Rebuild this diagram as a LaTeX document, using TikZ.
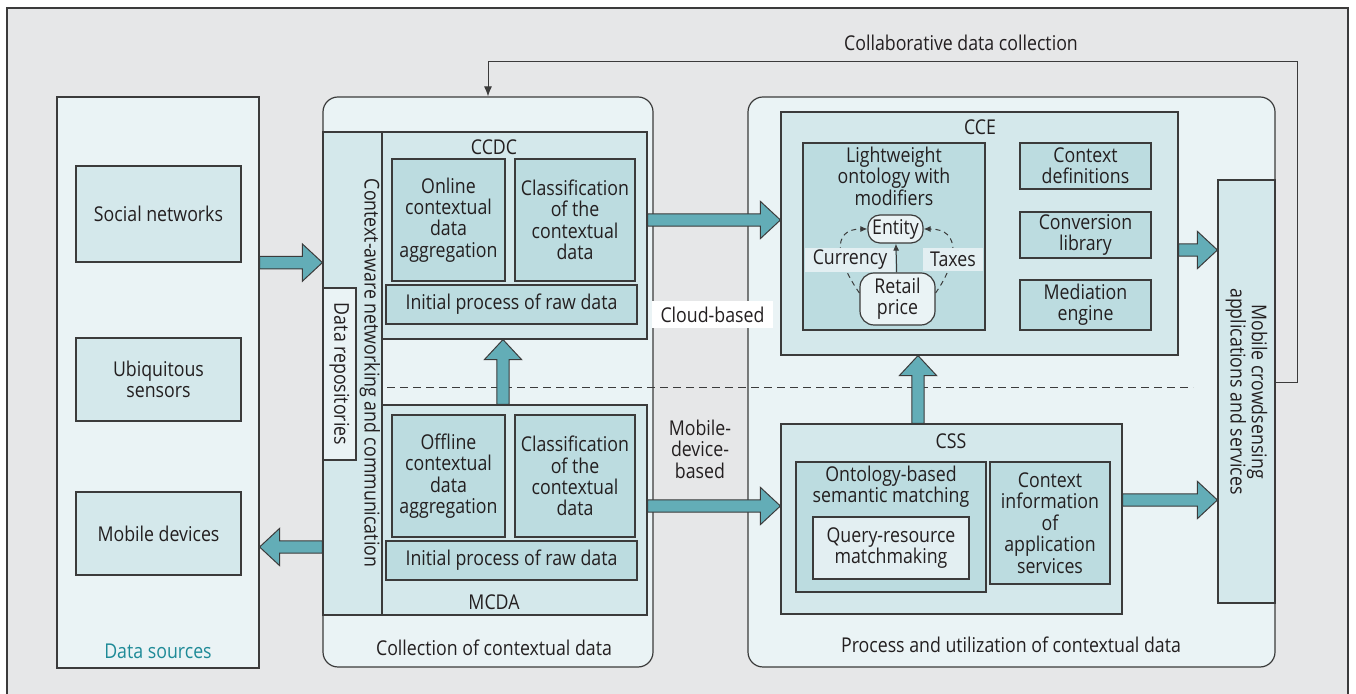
\documentclass[tikz,border=0pt]{standalone}
\usepackage{fontspec}
\setmainfont[FakeStretch=0.87]{Open Sans}
\usepackage{tikz}
\usetikzlibrary{calc,fit,arrows.meta}
\definecolor{BgC}{HTML}{E6E7E8}
\definecolor{PaleC}{HTML}{EAF3F5}
\definecolor{MidC}{HTML}{D4E8EB}
\definecolor{DeepC}{HTML}{BCDCE0}
\definecolor{BandC}{HTML}{E3EFF2}
\definecolor{ArrC}{HTML}{63ADB7}
\definecolor{LineC}{HTML}{3B3B3B}
\definecolor{TxtC}{HTML}{231F20}
\definecolor{SrcC}{HTML}{1E8A97}
\tikzset{
  box/.style={draw=LineC,line width=.6pt,inner sep=0pt},
  palebox/.style={box,fill=PaleC},
  midbox/.style={box,fill=MidC},
  deepbox/.style={box,fill=DeepC},
  roundbox/.style={palebox,rounded corners=7.5pt},
  lbl/.style={text=TxtC,align=center,inner sep=0pt},
  fatarrow/.style={draw=LineC,fill=ArrC,line width=.5pt},
  thinarrow/.style={draw=LineC,line width=.5pt,-{Latex[length=5pt,width=4pt]}},
  smallarrow/.style={draw=LineC,line width=.5pt,-{Latex[length=3.5pt,width=3pt]}},
}
% block arrow from #1 to #2 (shaft, then head)
\newcommand{\fatarrow}[2]{%
  \coordinate (fa-s) at (#1);
  \coordinate (fa-t) at (#2);
  \coordinate (fa-h) at ($(fa-t)!10pt!(fa-s)$);
  \filldraw[fatarrow] ($(fa-s)!3.1pt!90:(fa-t)$) -- ($(fa-h)!3.1pt!90:(fa-t)$)
    -- ($(fa-h)!9.3pt!90:(fa-t)$) -- (fa-t) -- ($(fa-h)!9.3pt!-90:(fa-t)$)
    -- ($(fa-h)!3.1pt!-90:(fa-t)$) -- ($(fa-s)!3.1pt!-90:(fa-t)$) -- cycle;}

\begin{document}
\begin{tikzpicture}[x=0.5pt,y=-0.5pt,font=\fontsize{10.2}{10.7}\selectfont]
\useasboundingbox (0,0) rectangle (1356,694);

% ---------- frame ----------
\fill[BgC] (7,8) rectangle (1348,694);
\draw[LineC,line width=.6pt] (7,694) -- (7,8) -- (1348,8) -- (1348,694);

% ---------- data sources ----------
\node[palebox,fit={(57,97) (259,668)}] (sources) {};
\node[midbox,fit={(76,166) (241,262)}] (social) {};
\node[lbl] (social-t) at (social) {Social networks};
\node[midbox,fit={(76,338) (241,421)}] (sensors) {};
\node[lbl] (sensors-t) at (sensors) {Ubiquitous\\sensors};
\node[midbox,fit={(76,492) (241,575)}] (mobile) {};
\node[lbl] (mobile-t) at (mobile) {Mobile devices};
\node[lbl,text=SrcC] (srclbl) at (158,651) {Data sources};

% ---------- collection of contextual data ----------
\node[roundbox,fit={(323,97) (653,667)}] (coll) {};
\node[midbox,fit={(323,132) (382,615)}] (ctx) {};
\node[palebox,fit={(323,288) (356,460)}] (repo) {};
\node[lbl,rotate=-90] (repolbl) at (repo.center) {Data repositories};
\node[lbl,rotate=-90] (ctxlbl) at (370,373) {Context-aware networking and communication};

\node[midbox,fit={(382,132) (647,339)}] (ccdc) {};
\node[lbl] (ccdclbl) at (494,147) {CCDC};
\node[deepbox,fit={(392,159) (505,281)}] (online) {};
\node[lbl] (online-t) at (online) {Online\\contextual\\data\\aggregation};
\node[deepbox,fit={(515,159) (635,281)}] (clsup) {};
\node[lbl] (clsup-t) at (clsup) {Classification\\of the\\contextual\\data};
\node[deepbox,fit={(386,285) (637,324)}] (rawup) {};
\node[lbl] (rawup-t) at (rawup) {Initial process of raw data};

\node[midbox,fit={(382,405) (647,615)}] (mcda) {};
\node[deepbox,fit={(392,415) (505,537)}] (offline) {};
\node[lbl] (offline-t) at (offline) {Offline\\contextual\\data\\aggregation};
\node[deepbox,fit={(515,415) (635,537)}] (clsdown) {};
\node[lbl] (clsdown-t) at (clsdown) {Classification\\of the\\contextual\\data};
\node[deepbox,fit={(386,541) (637,580)}] (rawdown) {};
\node[lbl] (rawdown-t) at (rawdown) {Initial process of raw data};
\node[lbl] (mcdalbl) at (494,602) {MCDA};
\node[lbl] (colllbl) at (494,648) {Collection of contextual data};

% ---------- process and utilization ----------
\node[roundbox,fit={(748,97) (1275,667)}] (proc) {};
\node[midbox,fit={(781,112) (1178,355)}] (cce) {};
\node[lbl] (ccelbl) at (980,127) {CCE};
\node[deepbox,fit={(803,143) (985,330)}] (onto) {};
\node[lbl] (ontolbl) at (894,176) {Lightweight\\ontology with\\modifiers};
\node[box,fill=PaleC,rounded corners=6pt,fit={(868,215) (923,243)}] (entity) {};
\node[lbl] (entity-t) at (entity) {Entity};
\node[box,fill=PaleC,rounded corners=7pt,fit={(860,273) (935,325)}] (retail) {};
\node[lbl] (retail-t) at (retail) {Retail\\price};
\draw[smallarrow,dash pattern=on 2.5pt off 2pt] ([yshift=3pt]retail.west) to[out=125,in=180,looseness=1.5] (entity.west);
\draw[smallarrow,dash pattern=on 2.5pt off 2pt] ([yshift=3pt]retail.east) to[out=55,in=0,looseness=1.5] (entity.east);
\node[fill=BandC,inner sep=0pt,fit={(805,248) (895,272)}] (cur) {};
\node[lbl] (cur-t) at (cur) {Currency};
\node[fill=BandC,inner sep=0pt,fit={(923,248) (983,271)}] (tax) {};
\node[lbl] (tax-t) at (tax) {Taxes};
\draw[smallarrow] (retail) -- (entity);

\node[deepbox,fit={(1020,143) (1151,189)}] (ctxdef) {};
\node[lbl] (ctxdef-t) at (ctxdef) {Context\\definitions};
\node[deepbox,fit={(1020,212) (1151,258)}] (convlib) {};
\node[lbl] (convlib-t) at (convlib) {Conversion\\library};
\node[deepbox,fit={(1020,280) (1151,330)}] (medeng) {};
\node[lbl] (medeng-t) at (medeng) {Mediation\\engine};

\node[midbox,fit={(781,424) (1122,614)}] (css) {};
\node[lbl] (csslbl) at (951,441) {CSS};
\node[deepbox,fit={(796,462) (986,592)}] (semmatch) {};
\node[lbl] (semlbl) at (891,487) {Ontology-based\\semantic matching};
\node[box,fill=BandC,fit={(813,517) (969,579)}] (query) {};
\node[lbl] (query-t) at (query) {Query-resource\\matchmaking};
\node[deepbox,fit={(990,462) (1110,584)}] (appinfo) {};
\node[lbl] (appinfo-t) at (appinfo) {Context\\information\\of\\application\\services};
\node[lbl] (proclbl) at (1011,645) {Process and utilization of contextual data};

\node[midbox,fit={(1218,180) (1275,603)}] (bar) {};
\node[lbl,rotate=-90] (barlbl) at (bar.center) {Mobile crowdsensing\\applications and services};

% ---------- cloud / mobile split ----------
\draw[LineC,line width=.5pt,dash pattern=on 4pt off 2.5pt] (387,388) -- (1193,388);
\node[fill=white,inner sep=0pt,fit={(652,301) (773,328)}] (cloud) {};
\node[lbl] (cloud-t) at (cloud) {Cloud-based};
\node[lbl] (mobbased) at (700,449) {Mobile-\\device-\\based};

% ---------- block arrows ----------
\fatarrow{sources.east |- social.south}{ctx.west |- social.south}
\fatarrow{ctx.west |- 0,547}{sources.east |- 0,547}
\fatarrow{ccdc.east |- clsup.east}{cce.west |- clsup.east}
\fatarrow{mcda.east |- 0,506}{css.west |- 0,506}
\fatarrow{mcda.north -| 503,0}{ccdc.south -| 503,0}
\fatarrow{css.north -| 918,0}{cce.south -| 918,0}
\fatarrow{cce.east |- 0,250}{bar.west |- 0,250}
\fatarrow{css.east |- 0,500}{bar.west |- 0,500}

% ---------- feedback loop ----------
\draw[thinarrow] (bar.east |- 0,383) -| (1297,62) -| (coll.north);
\node[lbl] (collab) at (961,43) {Collaborative data collection};
\end{tikzpicture}
\end{document}
